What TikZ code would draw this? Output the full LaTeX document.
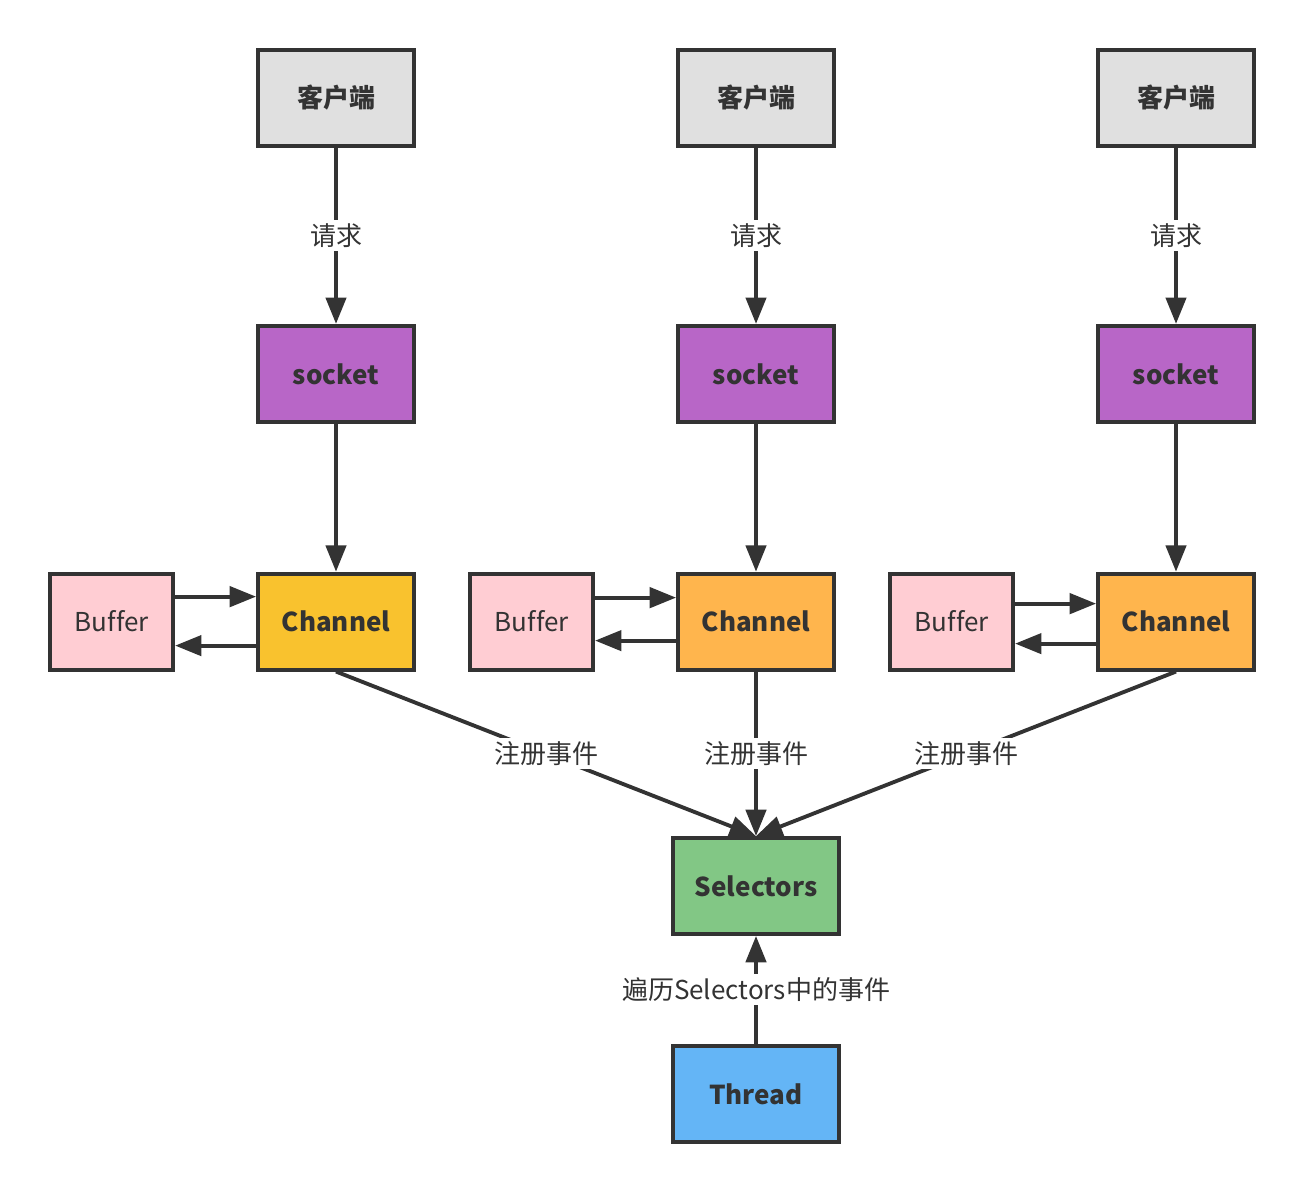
\documentclass[tikz,border=0pt]{standalone}
\usepackage{fontspec}
\setmainfont[Ligatures=NoCommon]{Noto Sans CJK SC}
\usetikzlibrary{positioning, arrows.meta}

\definecolor{linegray}{HTML}{333333}
\definecolor{clientgray}{HTML}{E0E0E0}
\definecolor{sockpurple}{HTML}{B866C7}
\definecolor{chanyellow}{HTML}{F9C22E}
\definecolor{chanorange}{HTML}{FFB54D}
\definecolor{bufpink}{HTML}{FFCDD3}
\definecolor{selgreen}{HTML}{82C785}
\definecolor{threadblue}{HTML}{64B5F6}

\tikzset{
  box/.style={draw=linegray, line width=2.2pt, text=linegray, minimum width=3.12cm, minimum height=1.92cm, font=\fontsize{14.8}{17}\selectfont\bfseries},
  client/.style={box, fill=clientgray},
  sock/.style={box, fill=sockpurple},
  chan/.style={box, fill=chanorange},
  buf/.style={box, fill=bufpink, minimum width=2.46cm, font=\fontsize{14.8}{17}\selectfont},
  sel/.style={box, fill=selgreen, minimum width=3.32cm},
  arr/.style={-{Triangle[length=15pt,width=11.5pt]}, draw=linegray, line width=2.2pt},
  lbl/.style={fill=white, text=linegray, inner sep=2pt, font=\fontsize{14.8}{17}\selectfont},
}

\begin{document}
\begin{tikzpicture}[x=0.02cm, y=-0.02cm]
		\useasboundingbox (0,0) rectangle (1304,1192);

		% clients %
		\node[client] (k1) at (336,98) {客户端};
		\node[client] (k2) at (756,98) {客户端};
		\node[client] (k3) at (1176,98) {客户端};

		% sockets %
		\node[sock, below=3.52cm of k1] (s1) {socket};
		\node[sock, below=3.52cm of k2] (s2) {socket};
		\node[sock, below=3.52cm of k3] (s3) {socket};

		% channels and buffers %
		\node[chan, fill=chanyellow, below=2.96cm of s1] (ch1) {Channel};
		\node[chan, below=2.96cm of s2] (ch2) {Channel};
		\node[chan, below=2.96cm of s3] (ch3) {Channel};
		\node[buf, left=1.62cm of ch1] (b1) {Buffer};
		\node[buf, left=1.62cm of ch2] (b2) {Buffer};
		\node[buf, left=1.62cm of ch3] (b3) {Buffer};

		% selectors and thread %
		\node[sel] (sel) at (756,886) {Selectors};
		\node[sel, fill=threadblue, below=2.16cm of sel] (th) {Thread};

		% edges %
		\draw[arr] (k1) -- node[lbl] {请求} (s1);
		\draw[arr] (k2) -- node[lbl] {请求} (s2);
		\draw[arr] (k3) -- node[lbl] {请求} (s3);
		\draw[arr] (s1) -- (ch1);
		\draw[arr] (s2) -- (ch2);
		\draw[arr] (s3) -- (ch3);

		\draw[arr] ([yshift=0.5cm]b1.east) -- ([yshift=0.5cm]ch1.west);
		\draw[arr] ([yshift=-0.48cm]ch1.west) -- ([yshift=-0.48cm]b1.east);
		\draw[arr] ([yshift=0.48cm]b2.east) -- ([yshift=0.48cm]ch2.west);
		\draw[arr] ([yshift=-0.38cm]ch2.west) -- ([yshift=-0.38cm]b2.east);
		\draw[arr] ([yshift=0.36cm]b3.east) -- ([yshift=0.36cm]ch3.west);
		\draw[arr] ([yshift=-0.44cm]ch3.west) -- ([yshift=-0.44cm]b3.east);

		\draw[arr] (ch1.south) -- node[lbl] {注册事件} (sel.north);
		\draw[arr] (ch2.south) -- node[lbl] {注册事件} (sel.north);
		\draw[arr] (ch3.south) -- node[lbl] {注册事件} (sel.north);

		\draw[arr] (th) -- node[lbl] {遍历Selectors中的事件} (sel);
\end{tikzpicture}
\end{document}
